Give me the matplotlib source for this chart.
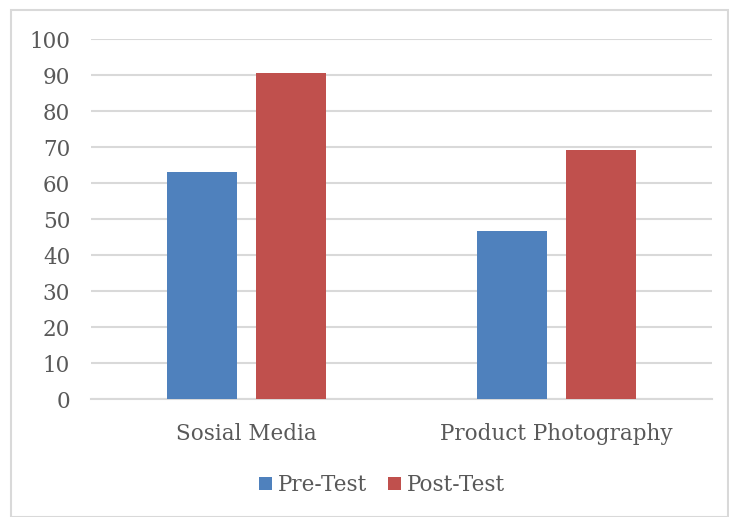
import numpy as np
import matplotlib.pyplot as plt
from matplotlib.patches import Rectangle

categories = ["Sosial Media", "Product Photography"]
pre_test = [63.1, 46.7]
post_test = [90.5, 69.2]
series_names = ["Pre-Test", "Post-Test"]
y_ticks = [0, 10, 20, 30, 40, 50, 60, 70, 80, 90, 100]

BLUE = "#4F81BD"
RED = "#C0504D"
TEXT = "#595959"
GRID = "#D9D9D9"

plt.rcParams['font.family'] = ['DejaVu Serif']

fig = plt.figure(figsize=(7.29, 5.17), dpi=100)
# light frame round the whole chart
fig.patches.append(Rectangle((11 / 729, 0), 717 / 729, 507 / 517, transform=fig.transFigure,
                             fill=False, edgecolor=GRID, linewidth=1.5))

ax = fig.add_axes([91 / 729, 118 / 517, 621 / 729, 360 / 517])

x = np.arange(len(categories))
w = 0.225
gap = 0.061
ax.bar(x - (w + gap) / 2, pre_test, w, color=BLUE, label=series_names[0], zorder=3)
ax.bar(x + (w + gap) / 2, post_test, w, color=RED, label=series_names[1], zorder=3)

ax.set_xlim(-0.5, 1.5)
ax.set_ylim(0, 100)
ax.set_yticks(y_ticks)
ax.set_xticks(x)
ax.set_xticklabels(categories)
ax.yaxis.grid(True, color=GRID, linewidth=1.5, zorder=0)
ax.tick_params(axis='both', length=0, labelsize=15.5, colors=TEXT)
ax.tick_params(axis='x', pad=17)
ax.tick_params(axis='y', pad=15)
for s in ["left", "right", "top"]:
    ax.spines[s].set_visible(False)
ax.spines["bottom"].set_color(GRID)
ax.spines["bottom"].set_linewidth(1.5)

leg = fig.legend(loc='center', bbox_to_anchor=(382 / 729, 1 - 485 / 517), ncol=2, frameon=False,
                 fontsize=15.5, handlelength=0.6, handleheight=0.6, handletextpad=0.25,
                 columnspacing=1.0)
for t in leg.get_texts():
    t.set_color(TEXT)

fig.savefig("out.png", dpi=100)
